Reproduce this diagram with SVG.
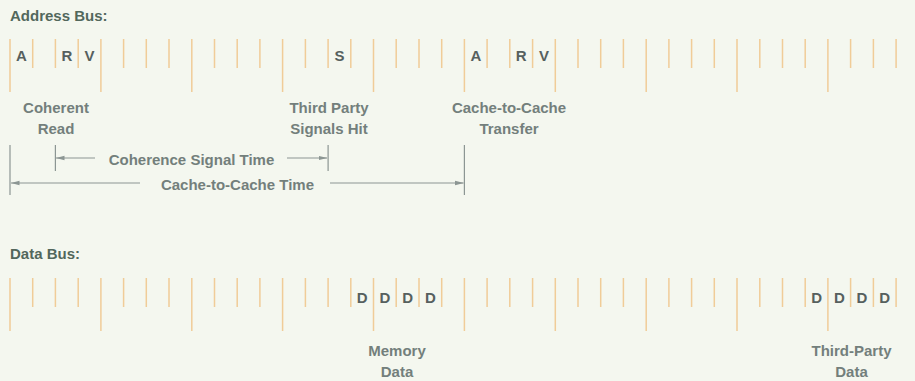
<svg xmlns="http://www.w3.org/2000/svg" width="915" height="381" viewBox="0 0 915 381">
<defs>
<style>
.bg{fill:#f4f7ef}
.tk{stroke:#f0cc98;stroke-width:1.5}
.hd{font-family:"Liberation Sans",Arial,sans-serif;font-weight:bold;font-size:15px;fill:#52675c}
.sig{font-family:"Liberation Sans",Arial,sans-serif;font-weight:bold;font-size:15px;fill:#56605e;text-anchor:middle}
.lb{font-family:"Liberation Sans",Arial,sans-serif;font-weight:bold;font-size:15px;fill:#737f7c;text-anchor:middle}
.dim{stroke:#8c9693;stroke-width:1.2;fill:none}
</style>
<marker id="ah" markerWidth="9" markerHeight="6" refX="8.5" refY="3" orient="auto" markerUnits="userSpaceOnUse">
<path d="M0,0.8 L9,3 L0,5.2 z" fill="#8c9693"/>
</marker>
<g id="tickrow">
<path class="tk" d="M10,0V53 M32.7,0V29 M55.4,0V29 M78.2,0V29 M100.9,0V53 M123.6,0V29 M146.3,0V29 M169,0V29 M191.8,0V53 M214.5,0V29 M237.2,0V29 M259.9,0V29 M282.6,0V53 M305.4,0V29 M328.1,0V29 M350.8,0V29 M373.5,0V53 M396.2,0V29 M419,0V29 M441.7,0V29 M464.4,0V53 M487.1,0V29 M509.8,0V29 M532.6,0V29 M555.3,0V53 M578,0V29 M600.7,0V29 M623.4,0V29 M646.2,0V53 M668.9,0V29 M691.6,0V29 M714.3,0V29 M737,0V53 M759.8,0V29 M782.5,0V29 M805.2,0V29 M827.9,0V53 M850.6,0V29 M873.4,0V29 M896.1,0V29"/>
</g>
</defs>
<rect class="bg" x="0" y="0" width="915" height="381"/>

<g id="address-bus">
<text class="hd" x="10" y="21">Address Bus:</text>
<use href="#tickrow" x="0" y="39"/>
<text class="sig" x="21.4" y="61">A</text>
<text class="sig" x="66.8" y="61">R</text>
<text class="sig" x="89.5" y="61">V</text>
<text class="sig" x="339.4" y="61">S</text>
<text class="sig" x="475.8" y="61">A</text>
<text class="sig" x="521.2" y="61">R</text>
<text class="sig" x="543.9" y="61">V</text>
</g>

<g id="label-coherent-read">
<text class="lb" x="56" y="113">Coherent</text>
<text class="lb" x="56" y="134">Read</text>
</g>
<g id="label-third-party-hit">
<text class="lb" x="329" y="113">Third Party</text>
<text class="lb" x="329" y="134">Signals Hit</text>
</g>
<g id="label-cache-transfer">
<text class="lb" x="509" y="113">Cache-to-Cache</text>
<text class="lb" x="509" y="134">Transfer</text>
</g>

<g id="connectors">
<path class="dim" d="M10,145V195 M55.4,145V171 M328.1,145V171 M464.4,145V195"/>
<path class="dim" d="M95,158H56" marker-end="url(#ah)"/>
<path class="dim" d="M287,158H327" marker-end="url(#ah)"/>
<path class="dim" d="M140,183H11" marker-end="url(#ah)"/>
<path class="dim" d="M330,183H463.5" marker-end="url(#ah)"/>
<text class="lb" x="191.5" y="165">Coherence Signal Time</text>
<text class="lb" x="237.5" y="190">Cache-to-Cache Time</text>
</g>

<g id="data-bus">
<text class="hd" x="10" y="259">Data Bus:</text>
<use href="#tickrow" x="0" y="278"/>
<text class="sig" x="362.1" y="303">D</text>
<text class="sig" x="384.9" y="303">D</text>
<text class="sig" x="407.6" y="303">D</text>
<text class="sig" x="430.3" y="303">D</text>
<text class="sig" x="816.6" y="303">D</text>
<text class="sig" x="839.3" y="303">D</text>
<text class="sig" x="862" y="303">D</text>
<text class="sig" x="884.7" y="303">D</text>
</g>

<g id="label-memory-data">
<text class="lb" x="397" y="356">Memory</text>
<text class="lb" x="397" y="377">Data</text>
</g>
<g id="label-third-party-data">
<text class="lb" x="851.5" y="356">Third-Party</text>
<text class="lb" x="851.5" y="377">Data</text>
</g>
</svg>
